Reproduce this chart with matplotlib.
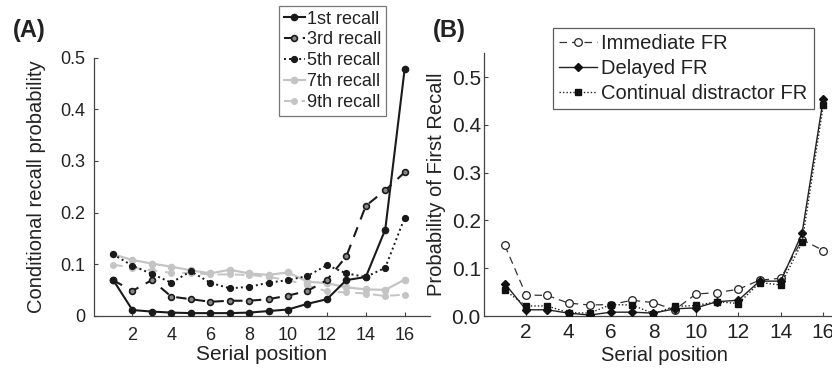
import matplotlib
matplotlib.use("Agg")
import matplotlib.pyplot as plt
from matplotlib.ticker import FixedLocator

plt.rcParams['font.family'] = ['Liberation Sans', 'DejaVu Sans']

# ---- data ----
serial_pos = list(range(1, 17))

# Panel A: conditional recall probability by output position
recall_1st = [0.070, 0.011, 0.008, 0.006, 0.005, 0.005, 0.005, 0.006,
              0.009, 0.012, 0.023, 0.032, 0.069, 0.075, 0.167, 0.479]
recall_3rd = [0.069, 0.048, 0.069, 0.037, 0.032, 0.027, 0.029, 0.029,
              0.032, 0.039, 0.048, 0.069, 0.115, 0.213, 0.243, 0.278]
recall_5th = [0.119, 0.097, 0.081, 0.064, 0.086, 0.064, 0.053, 0.056,
              0.064, 0.069, 0.077, 0.098, 0.082, 0.075, 0.093, 0.190]
recall_7th = [0.119, 0.108, 0.101, 0.095, 0.088, 0.082, 0.089, 0.082,
              0.079, 0.084, 0.066, 0.063, 0.055, 0.051, 0.050, 0.070]
recall_9th = [0.099, 0.093, 0.088, 0.083, 0.083, 0.080, 0.080, 0.079,
              0.075, 0.069, 0.059, 0.047, 0.045, 0.043, 0.038, 0.041]

# Panel B: probability of first recall
immediate_fr = [0.148, 0.044, 0.043, 0.027, 0.023, 0.024, 0.033, 0.028,
                0.013, 0.046, 0.049, 0.056, 0.075, 0.079, 0.160, 0.137]
delayed_fr = [0.068, 0.013, 0.013, 0.006, 0.002, 0.008, 0.008, 0.006,
              0.015, 0.017, 0.030, 0.033, 0.073, 0.073, 0.173, 0.455]
distractor_fr = [0.054, 0.021, 0.021, 0.007, 0.006, 0.024, 0.023, 0.005,
                 0.020, 0.022, 0.030, 0.026, 0.070, 0.065, 0.154, 0.441]

x_ticks = [2, 4, 6, 8, 10, 12, 14, 16]
a_yticks = [0, 0.1, 0.2, 0.3, 0.4, 0.5]
a_yticklabels = ['0', '0.1', '0.2', '0.3', '0.4', '0.5']
b_yticks = [0.0, 0.1, 0.2, 0.3, 0.4, 0.5]
b_yticklabels = ['0.0', '0.1', '0.2', '0.3', '0.4', '0.5']

W, H = 832, 368
fig = plt.figure(figsize=(W / 100, H / 100), dpi=100)
TXT = '#222222'
AX = '#444444'
GRAY = '#c4c4c4'


def px_axes(left, top, right, bottom):
    return fig.add_axes([left / W, 1 - bottom / H, (right - left) / W, (bottom - top) / H])


def style_axes(ax, fs):
    for s in ('top', 'right'):
        ax.spines[s].set_visible(False)
    for s in ('left', 'bottom'):
        ax.spines[s].set_color(AX)
        ax.spines[s].set_linewidth(0.9)
    ax.tick_params(direction='in', length=3, width=0.8, colors=AX,
                   labelcolor=TXT, labelsize=fs)
    ax.set_facecolor('none')


# ---------------- Panel A ----------------
axA = px_axes(93.5, 57.7, 430, 315.7)
style_axes(axA, 13)
axA.plot(serial_pos, recall_9th, color=GRAY, ls=(0, (5, 4)), lw=1.4,
         marker='o', ms=4, mfc=GRAY, mec=GRAY, label='9th recall', zorder=2)
axA.plot(serial_pos, recall_7th, color=GRAY, ls='-', lw=1.6,
         marker='o', ms=4.5, mfc=GRAY, mec=GRAY, label='7th recall', zorder=2)
axA.plot(serial_pos, recall_5th, color='#1a1a1a', ls=(0, (1, 1.6)), lw=1.4,
         marker='o', ms=4.2, mfc='#1a1a1a', mec='#1a1a1a', label='5th recall', zorder=3)
axA.plot(serial_pos, recall_3rd, color='#1a1a1a', ls=(0, (5, 4)), lw=1.5,
         marker='o', ms=4.2, mfc='#888888', mec='#1a1a1a', mew=1.2,
         label='3rd recall', zorder=3)
axA.plot(serial_pos, recall_1st, color='#1a1a1a', ls='-', lw=1.5,
         marker='o', ms=4.5, mfc='#1a1a1a', mec='#1a1a1a', label='1st recall', zorder=4)
axA.set_xlim(0, 17.3)
axA.set_ylim(0, 0.5)
axA.xaxis.set_major_locator(FixedLocator(x_ticks))
axA.set_xticklabels([str(t) for t in x_ticks])
axA.set_yticks(a_yticks)
axA.set_yticklabels(a_yticklabels)
axA.tick_params(axis='y', pad=6)
axA.tick_params(axis='x', pad=8)
axA.set_xlabel('Serial position', fontsize=15, color=TXT, labelpad=1)
axA.set_ylabel('Conditional recall probability', fontsize=14.5, color=TXT, labelpad=10)

hA, lA = axA.get_legend_handles_labels()
order = [4, 3, 2, 1, 0]
legA = axA.legend([hA[i] for i in order], [lA[i] for i in order],
                  loc='upper left', bbox_to_anchor=(279 / W, 1 - 6 / H),
                  bbox_transform=fig.transFigure, fontsize=13,
                  frameon=True, fancybox=False, borderpad=0.25,
                  handlelength=1.2, handletextpad=0.1, labelspacing=0.22,
                  borderaxespad=0)
legA.get_frame().set_edgecolor('#555555')
legA.get_frame().set_linewidth(0.9)
for t in legA.get_texts():
    t.set_color(TXT)

fig.text(13 / W, 1 - 31 / H, '(A)', fontsize=17, fontweight='bold',
         color=TXT, va='center', ha='left')

# ---------------- Panel B ----------------
axB = px_axes(483.6, 53.3, 483.6 + 17 * 21.23, 316)
style_axes(axB, 15)
axB.plot(serial_pos, immediate_fr, color='#333333', ls=(0, (6, 4)), lw=0.9,
         marker='o', ms=5.5, mfc='white', mec='#222222', mew=0.9,
         label='Immediate FR', zorder=3)
axB.plot(serial_pos, delayed_fr, color='#222222', ls='-', lw=1.0,
         marker='D', ms=4.5, mfc='#111111', mec='#111111', label='Delayed FR', zorder=4)
axB.plot(serial_pos, distractor_fr, color='#222222', ls=(0, (1, 1.5)), lw=1.0,
         marker='s', ms=5, mfc='#111111', mec='#111111',
         label='Continual distractor FR', zorder=4)
axB.set_xlim(0, 17)
axB.set_ylim(0, 0.55)
axB.xaxis.set_major_locator(FixedLocator(x_ticks))
axB.set_xticklabels([str(t) for t in x_ticks])
axB.set_yticks(b_yticks)
axB.set_yticklabels(b_yticklabels)
axB.tick_params(axis='y', pad=2)
axB.tick_params(axis='x', pad=5)
axB.set_xlabel('Serial position', fontsize=14.5, color=TXT, labelpad=3)
axB.set_ylabel('Probability of First Recall', fontsize=14.5, color=TXT, labelpad=4)

legB = axB.legend(loc='upper left', bbox_to_anchor=(553 / W, 1 - 28 / H),
                  bbox_transform=fig.transFigure, fontsize=14.5,
                  frameon=True, fancybox=False, borderpad=0.3,
                  handlelength=1.9, handletextpad=0.2, labelspacing=0.3,
                  borderaxespad=0)
legB.get_frame().set_edgecolor('#333333')
legB.get_frame().set_linewidth(0.9)
for t in legB.get_texts():
    t.set_color(TXT)

fig.text(433 / W, 1 - 31 / H, '(B)', fontsize=17, fontweight='bold',
         color=TXT, va='center', ha='left')

fig.savefig('out.png', dpi=100)
